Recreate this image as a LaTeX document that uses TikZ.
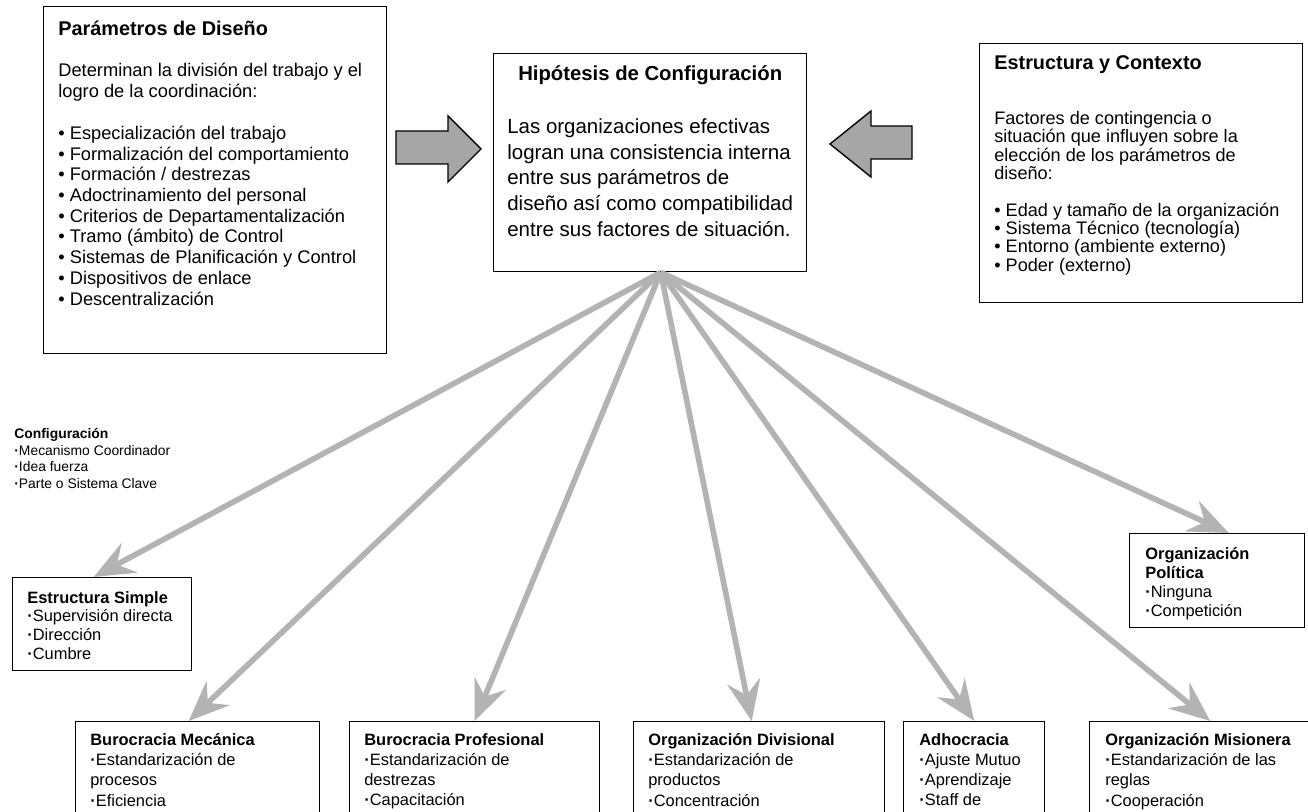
\documentclass[tikz,border=0pt]{standalone}
\usepackage{fontspec}
\setmainfont{Liberation Sans}
\usetikzlibrary{positioning, arrows.meta, calc}

\definecolor{linkgray}{RGB}{179,179,179}
\definecolor{blockgray}{RGB}{166,166,166}
\newcommand{\pt}{{\bfseries ·}}

\begin{document}
\begin{tikzpicture}[
    panel/.style={
        rectangle,
        draw=black,
        line width=0.8pt,
        anchor=north west,
        inner sep=0pt
    },
    bigtext/.style={inner sep=0pt, align=left, font=\fontsize{10.4}{11.8}\selectfont},
    ctxtext/.style={inner sep=0pt, align=left, font=\fontsize{10.3}{10.5}\selectfont},
    hiptext/.style={inner sep=0pt, align=left, font=\fontsize{11.65}{14.6}\selectfont},
    hiptitle/.style={inner sep=0pt, font=\fontsize{11.55}{14}\selectfont\bfseries},
    smalltext/.style={inner sep=0pt, align=left, font=\fontsize{9.35}{10.6}\selectfont},
    cfgtext/.style={inner sep=0pt, align=left, font=\fontsize{9.35}{11.5}\selectfont},
    legend/.style={inner sep=0pt, align=left, font=\fontsize{7.9}{9.5}\selectfont},
    blockarrow/.style={draw=black, line width=0.8pt, fill=blockgray},
    link/.style={draw=linkgray, line width=3.2pt,
        -{Stealth[length=23pt, width=19pt, inset=8pt]}}
]

\useasboundingbox (0,0) rectangle (26.16,16.22);
\clip (0,0) rectangle (26.16,16.22);

% === Top row ===
\node[panel, minimum width=6.86cm, minimum height=6.94cm] (param) at (0.86,16.10) {};
\node[bigtext, below right=0.29cm and 0.30cm of param.north west] (paramText) {%
    {\bfseries\fontsize{11.3}{11.8}\selectfont Parámetros de Diseño}\\[11.7pt]
    Determinan la división del trabajo y el\\
    logro de la coordinación:\\[12pt]
    • Especialización del trabajo\\
    • Formalización del comportamiento\\
    • Formación / destrezas\\
    • Adoctrinamiento del personal\\
    • Criterios de Departamentalización\\
    • Tramo (ámbito) de Control\\
    • Sistemas de Planificación y Control\\
    • Dispositivos de enlace\\
    • Descentralización};

\node[panel, minimum width=6.26cm, minimum height=4.36cm] (hip) at (9.86,15.16) {};
\node[hiptitle, below=0.25cm of hip.north] (hipTitle) {Hipótesis de Configuración};
\node[hiptext, below right=1.31cm and 0.28cm of hip.north west] (hipText) {%
    Las organizaciones efectivas\\
    logran una consistencia interna\\
    entre sus parámetros de\\
    diseño así como compatibilidad\\
    entre sus factores de situación.};

\node[panel, minimum width=6.46cm, minimum height=5.18cm] (context) at (19.58,15.36) {};
\node[ctxtext, below right=0.25cm and 0.30cm of context.north west] (contextText) {%
    {\bfseries\fontsize{11.3}{10.5}\selectfont Estructura y Contexto}\\[20.5pt]
    Factores de contingencia o\\
    situación que influyen sobre la\\
    elección de los parámetros de\\
    diseño:\\[10.3pt]
    • Edad y tamaño de la organización\\
    • Sistema Técnico (tecnología)\\
    • Entorno (ambiente externo)\\
    • Poder (externo)};

% block arrows
\draw[blockarrow] (7.92,13.60) -- (8.96,13.60) -- (8.96,13.90) -- (9.62,13.24)
    -- (8.96,12.58) -- (8.96,12.94) -- (7.92,12.94) -- cycle;
\draw[blockarrow] (18.24,13.70) -- (17.42,13.70) -- (17.42,14.00) -- (16.60,13.34)
    -- (17.42,12.68) -- (17.42,13.04) -- (18.24,13.04) -- cycle;

% === Legend ===
\node[legend, anchor=north west] (cfg) at (0.28,7.66) {%
    {\bfseries Configuración}\\
    \pt Mecanismo Coordinador\\
    \pt Idea fuerza\\
    \pt Parte o Sistema Clave};

% === Configurations ===
\node[panel, minimum width=3.58cm, minimum height=1.86cm] (simple) at (0.24,4.68) {};
\node[smalltext, below right=0.28cm and 0.30cm of simple.north west] (simpleText) {%
    {\bfseries Estructura Simple}\\
    \pt Supervisión directa\\
    \pt Dirección\\
    \pt Cumbre};

\node[panel, minimum width=3.50cm, minimum height=1.88cm] (pol) at (22.58,5.56) {};
\node[smalltext, font=\fontsize{9.35}{10.9}\selectfont,
    below right=0.28cm and 0.32cm of pol.north west] (polText) {%
    {\bfseries Organización}\\
    {\bfseries Política}\\
    \pt Ninguna\\
    \pt Competición};

\node[panel, minimum width=4.88cm, minimum height=2.2cm] (mech) at (1.50,1.80) {};
\node[cfgtext, below right=0.24cm and 0.30cm of mech.north west] (mechText) {%
    {\bfseries Burocracia Mecánica}\\
    \pt Estandarización de\\
    procesos\\
    \pt Eficiencia};

\node[panel, minimum width=5.00cm, minimum height=2.2cm] (prof) at (6.98,1.80) {};
\node[cfgtext, below right=0.24cm and 0.30cm of prof.north west] (profText) {%
    {\bfseries Burocracia Profesional}\\
    \pt Estandarización de\\
    destrezas\\
    \pt Capacitación};

\node[panel, minimum width=5.02cm, minimum height=2.2cm] (div) at (12.66,1.80) {};
\node[cfgtext, below right=0.24cm and 0.30cm of div.north west] (divText) {%
    {\bfseries Organización Divisional}\\
    \pt Estandarización de\\
    productos\\
    \pt Concentración};

\node[panel, minimum width=2.82cm, minimum height=2.2cm] (adho) at (18.06,1.80) {};
\node[cfgtext, below right=0.24cm and 0.32cm of adho.north west] (adhoText) {%
    {\bfseries Adhocracia}\\
    \pt Ajuste Mutuo\\
    \pt Aprendizaje\\
    \pt Staff de};

\node[panel, minimum width=4.82cm, minimum height=2.2cm] (mis) at (21.78,1.80) {};
\node[cfgtext, below right=0.24cm and 0.32cm of mis.north west] (misText) {%
    {\bfseries Organización Misionera}\\
    \pt Estandarización de las\\
    reglas\\
    \pt Cooperación};

% === Links ===
\coordinate (hub) at ([xshift=0.21cm]hip.south);
\draw[link] (hub) -- ([xshift=-0.17cm]simple.north);
\draw[link] (hub) -- ([xshift=-0.18cm]mech.north);
\draw[link] (hub) -- (prof.north);
\draw[link] (hub) -- ([xshift=-0.15cm]div.north);
\draw[link] (hub) -- (adho.north);
\draw[link] (hub) -- (mis.north);
\draw[link] (hub) -- ([xshift=0.23cm]pol.north);

\end{tikzpicture}
\end{document}
